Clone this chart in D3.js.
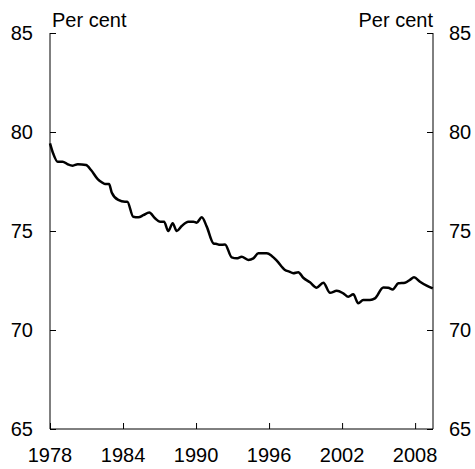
<!DOCTYPE html>
<html>
<head>
<meta charset="utf-8">
<script src="https://cdn.jsdelivr.net/npm/d3@7"></script>
<style>
  body { margin: 0; background: #fff; }
  text { font-family: "Liberation Sans", Arial, sans-serif; font-size: 20px; fill: #000; }
</style>
</head>
<body>
<div id="chart"></div>
<script>
var width = 475,
    height = 469,
    margin = {top: 33, right: 42, bottom: 40, left: 50};

// dates as decimal years
var years = [1978.0, 1978.27, 1978.63, 1979.04, 1979.45, 1979.87, 1980.28, 1980.96, 1981.37, 1981.92,
  1982.25, 1982.52, 1982.85, 1983.07, 1983.61, 1984.16, 1984.35, 1984.84, 1985.26, 1985.67,
  1986.16, 1986.63, 1987.04, 1987.37, 1987.72, 1988.08, 1988.41, 1988.82, 1989.36, 1989.78,
  1990.05, 1990.47, 1990.88, 1991.42, 1991.70, 1991.97, 1992.38, 1992.93, 1993.34, 1993.75,
  1994.29, 1994.71, 1995.12, 1995.81, 1996.22, 1996.63, 1997.31, 1997.66, 1997.99, 1998.40,
  1998.81, 1999.36, 1999.91, 2000.46, 2001.01, 2001.56, 2002.10, 2002.51, 2002.92, 2003.33,
  2003.74, 2004.29, 2004.70, 2005.39, 2005.80, 2006.16, 2006.62, 2007.17, 2007.58, 2007.91,
  2008.40, 2008.95, 2009.45];
var values = [79.43, 78.9, 78.5, 78.5, 78.37, 78.3, 78.37, 78.33, 78.08, 77.62,
  77.46, 77.37, 77.37, 76.95, 76.57, 76.48, 76.48, 75.72, 75.69, 75.8,
  75.93, 75.64, 75.47, 75.47, 75.0, 75.39, 75.0, 75.25, 75.47, 75.47,
  75.42, 75.69, 75.22, 74.38, 74.34, 74.3, 74.32, 73.67, 73.62, 73.7,
  73.54, 73.62, 73.87, 73.87, 73.74, 73.5, 73.03, 72.95, 72.87, 72.92,
  72.64, 72.41, 72.14, 72.39, 71.88, 71.98, 71.85, 71.68, 71.8, 71.35,
  71.52, 71.52, 71.6, 72.15, 72.13, 72.05, 72.36, 72.39, 72.53, 72.66,
  72.44, 72.24, 72.1];

var xTicks = [1978, 1984, 1990, 1996, 2002, 2008];
var yTicks = [65, 70, 75, 80, 85];
var unitLabel = "Per cent";

var data = years.map(function(d, i) { return {year: d, value: values[i]}; });

var x0 = margin.left, x1 = width - margin.right,
    y0 = margin.top, y1 = height - margin.bottom;

var x = d3.scaleLinear().domain([1978, 2009.47]).range([x0, x1]);
var y = d3.scaleLinear().domain([65, 85]).range([y1, y0]);

var svg = d3.select("#chart").append("svg")
    .attr("width", width)
    .attr("height", height);

// left axis, ticks pointing inward
var left = svg.append("g")
    .attr("transform", "translate(" + x0 + ",0)")
    .call(d3.axisRight(y).tickValues(yTicks).tickSize(6).tickFormat(""));
var right = svg.append("g")
    .attr("transform", "translate(" + x1 + ",0)")
    .call(d3.axisLeft(y).tickValues(yTicks).tickSize(6).tickFormat(""));
var bottom = svg.append("g")
    .attr("transform", "translate(0," + y1 + ")")
    .call(d3.axisTop(x).tickValues(xTicks).tickSize(6).tickFormat(""));

svg.selectAll(".domain").attr("stroke", "#000").attr("stroke-width", 1);
svg.selectAll(".tick line").attr("stroke", "#000");
left.select(".domain").attr("d", "M0," + y0 + "V" + y1);
right.select(".domain").attr("d", "M0," + y0 + "V" + y1);
bottom.select(".domain").attr("d", "M" + x0 + ",0H" + x1);

// tick labels
svg.selectAll(".ylab-l")
    .data(yTicks)
  .enter().append("text")
    .attr("x", 33)
    .attr("y", function(d) { return y(d); })
    .attr("dy", "0.36em")
    .attr("text-anchor", "end")
    .text(function(d) { return d; });

svg.selectAll(".ylab-r")
    .data(yTicks)
  .enter().append("text")
    .attr("x", 449)
    .attr("y", function(d) { return y(d); })
    .attr("dy", "0.36em")
    .text(function(d) { return d; });

svg.selectAll(".xlab")
    .data(xTicks)
  .enter().append("text")
    .attr("x", function(d) { return x(d); })
    .attr("y", 462)
    .attr("text-anchor", "middle")
    .text(function(d) { return d; });

svg.append("text")
    .attr("x", x0 + 2)
    .attr("y", 27)
    .text(unitLabel);

svg.append("text")
    .attr("x", x1)
    .attr("y", 27)
    .attr("text-anchor", "end")
    .text(unitLabel);

var line = d3.line()
    .x(function(d) { return x(d.year); })
    .y(function(d) { return y(d.value); })
    .curve(d3.curveMonotoneX);

svg.append("path")
    .datum(data)
    .attr("fill", "none")
    .attr("stroke", "#000")
    .attr("stroke-width", 2.5)
    .attr("stroke-linejoin", "round")
    .attr("d", line);
</script>
</body>
</html>
